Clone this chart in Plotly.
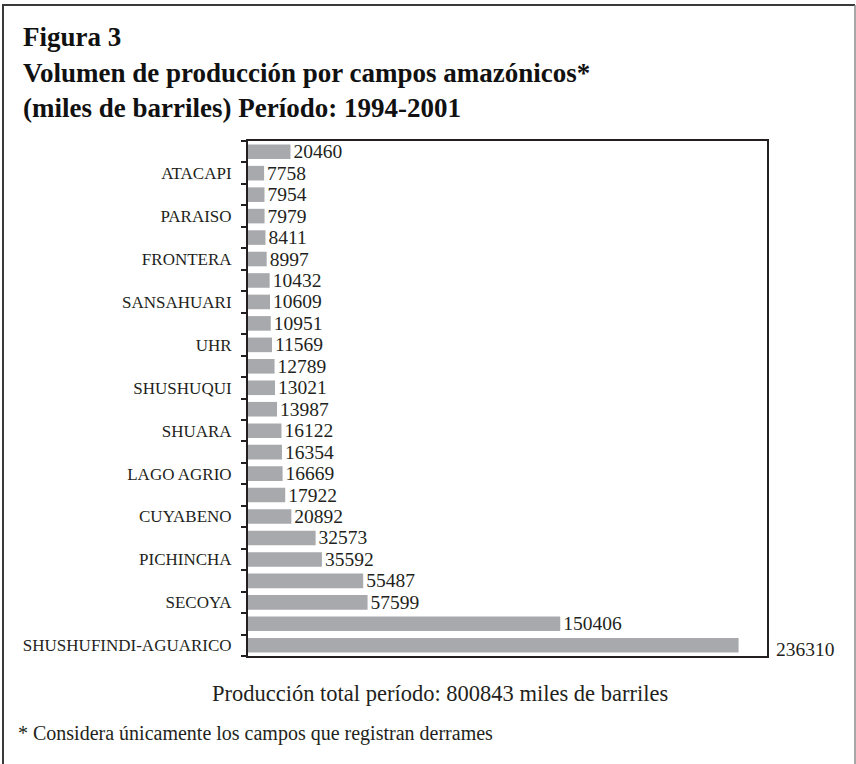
import plotly.graph_objects as go

# ---- data ----
labels = ["", "ATACAPI", "", "PARAISO", "", "FRONTERA", "", "SANSAHUARI", "", "UHR",
          "", "SHUSHUQUI", "", "SHUARA", "", "LAGO AGRIO", "", "CUYABENO", "", "PICHINCHA",
          "", "SECOYA", "", "SHUSHUFINDI-AGUARICO"]
values = [20460, 7758, 7954, 7979, 8411, 8997, 10432, 10609, 10951, 11569,
          12789, 13021, 13987, 16122, 16354, 16669, 17922, 20892, 32573, 35592,
          55487, 57599, 150406, 236310]
x_max = 250000

title_lines = ["Figura 3",
               "Volumen de producción por campos amazónicos*",
               "(miles de barriles) Período: 1994-2001"]
total_text = "Producción total período: 800843 miles de barriles"
note_text = "* Considera únicamente los campos que registran derrames"

# ---- layout geometry (pixels) ----
W, H = 856, 764
L, R, T, B = 248, 89, 141, 108
pw, ph = W - L - R, H - T - B


def px(x):
    return (x - L) / pw


def py(y):
    return (H - B - y) / ph


SERIF = "Liberation Serif, Times New Roman, serif"
INK = "#231f20"
VAL_SIZE = 19.5

positions = list(range(len(values)))
vmax = max(values)
bar_text = ["" if v == vmax else str(v) for v in values]

fig = go.Figure(go.Bar(
    x=values, y=positions, orientation="h",
    marker=dict(color="#a7a9ac", line=dict(width=0)),
    width=0.68,
    text=bar_text, textposition="outside", cliponaxis=False, constraintext="none",
    textfont=dict(family=SERIF, size=VAL_SIZE, color=INK),
    outsidetextfont=dict(family=SERIF, size=VAL_SIZE, color=INK),
))

annotations = []
for p, v in zip(positions, values):
    if v == vmax:
        annotations.append(dict(x=1, xref="paper", y=p, yref="y", text=str(v),
                                xanchor="left", yanchor="middle", xshift=7, yshift=-4,
                                showarrow=False,
                                font=dict(family=SERIF, size=VAL_SIZE, color=INK)))

TITLE_SIZE = 27
title_y = [47, 83, 118]
for t, yb in zip(title_lines, title_y):
    annotations.append(dict(x=px(21), y=py(yb), xref="paper", yref="paper", text="<b>%s</b>" % t,
                            xanchor="left", yanchor="bottom", yshift=-0.25 * TITLE_SIZE,
                            showarrow=False,
                            font=dict(family=SERIF, size=TITLE_SIZE, color="#111")))

annotations.append(dict(x=px(440), y=py(693), xref="paper", yref="paper", text=total_text,
                        xanchor="center", yanchor="middle", showarrow=False,
                        font=dict(family=SERIF, size=22.5, color=INK)))
annotations.append(dict(x=px(16), y=py(733), xref="paper", yref="paper", text=note_text,
                        xanchor="left", yanchor="middle", showarrow=False,
                        font=dict(family=SERIF, size=20, color=INK)))

shapes = [
    dict(type="line", xref="paper", yref="paper", x0=px(2), x1=px(855), y0=py(5), y1=py(5),
         line=dict(color="#3a3a3a", width=2)),
    dict(type="line", xref="paper", yref="paper", x0=px(3), x1=px(3), y0=py(5), y1=py(766),
         line=dict(color="#3a3a3a", width=2)),
    dict(type="line", xref="paper", yref="paper", x0=px(855), x1=px(855), y0=py(5), y1=py(766),
         line=dict(color="#8a8a8a", width=1.5)),
]

fig.update_layout(
    width=W, height=H,
    margin=dict(l=L, r=R, t=T, b=B, pad=0),
    paper_bgcolor="white", plot_bgcolor="white",
    showlegend=False,
    annotations=annotations,
    shapes=shapes,
    xaxis=dict(range=[0, x_max], showgrid=False, zeroline=False, showticklabels=False,
               ticks="", showline=True, linecolor=INK, linewidth=2, mirror=True),
    yaxis=dict(range=[len(values) - 0.5, -0.5], tickmode="array",
               tickvals=[p for p, l in zip(positions, labels) if l],
               ticktext=[l for l in labels if l],
               ticks="", showgrid=False, zeroline=False,
               showline=True, linecolor=INK, linewidth=2, mirror=True,
               ticklabelstandoff=11,
               tickfont=dict(family=SERIF, size=17, color=INK),
               minor=dict(tick0=0.5, dtick=1, ticks="outside", ticklen=5,
                          tickwidth=2, tickcolor=INK, showgrid=False)),
)

fig.write_html("out.html", config={"displayModeBar": False},
               post_script="document.body.style.margin='0';")
